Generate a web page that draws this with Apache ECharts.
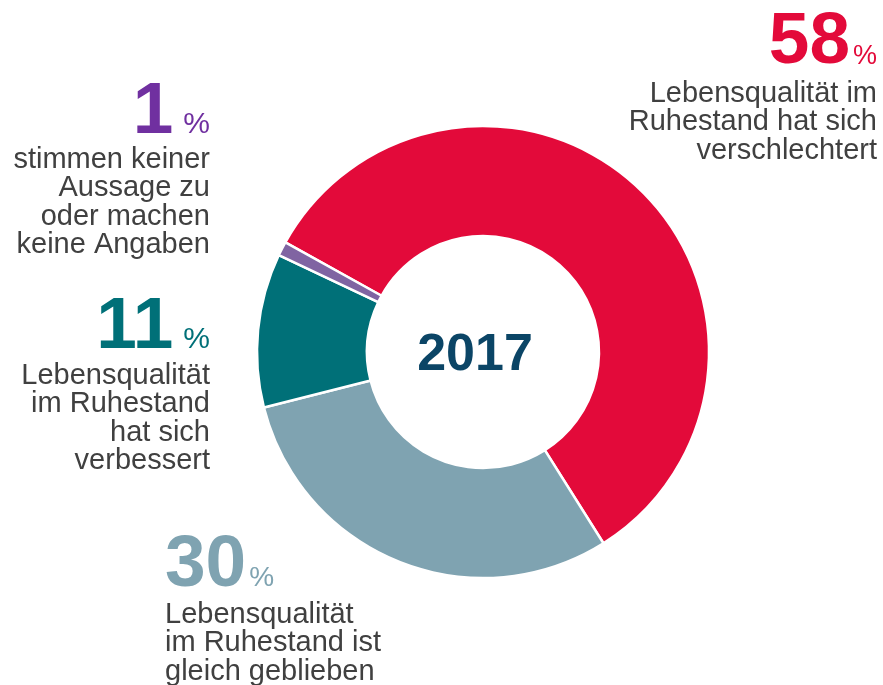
<!DOCTYPE html>
<html><head><meta charset="utf-8">
<script src="https://cdn.jsdelivr.net/npm/echarts@6/dist/echarts.min.js"></script>
<style>html,body{margin:0;padding:0;background:#fff}#c{width:883px;height:685px}</style>
</head><body><div id="c"></div>
<script>
const categories = ['Lebensqualität im Ruhestand hat sich verschlechtert','Lebensqualität im Ruhestand ist gleich geblieben','Lebensqualität im Ruhestand hat sich verbessert','stimmen keiner Aussage zu oder machen keine Angaben'];
const values = [58, 30, 11, 1];
const labelLines = [
  ['Lebensqualität im','Ruhestand hat sich','verschlechtert'],
  ['Lebensqualität','im Ruhestand ist','gleich geblieben'],
  ['Lebensqualität','im Ruhestand','hat sich','verbessert'],
  ['stimmen keiner','Aussage zu','oder machen','keine Angaben']
];
const centerLabel = '2017';

const sliceColors = ['#E30A3A','#7FA3B1','#007078','#8064A2'];
const labelColors = ['#E30A3A','#7FA3B1','#007078','#7030A0'];
const FONT = '"Liberation Sans", Arial, sans-serif';
const TEXT = '#404040';

const cvs = document.createElement('canvas').getContext('2d');
function w(text, font){ cvs.font = font; return cvs.measureText(text).width; }

const graphics = [];
function txt(text, x, baseline, size, weight, color, align, k){
  graphics.push({type:'text', silent:true, style:{text:text, x:x, y:baseline - k*size,
    font: weight+' '+size+'px '+FONT, fill:color, align:align, verticalAlign:'middle'}});
}
// layout anchors: [x, numberBaseline, firstLineBaseline, align, percentSize, gap]
const anchors = [
  [877, 65, 104, 'right', 27, 3],
  [165, 588, 625, 'left', 28, 3],
  [210, 350, 386, 'right', 30, 10],
  [210, 135, 170, 'right', 30, 10]
];
const NUM = 73, BODY = 29, LH = 28.5;
anchors.forEach((a, i) => {
  const [x, nb, lb, align, PCT, gap] = a;
  const num = String(values[i]);
  const numW = w(num, 'bold '+NUM+'px '+FONT);
  const pctW = w('%', PCT+'px '+FONT);
  if (align === 'right') {
    txt('%', x, nb, PCT, 'normal', labelColors[i], 'right', 0.33);
    txt(num, x - pctW - gap, nb, NUM, 'bold', labelColors[i], 'right', 0.30);
  } else {
    txt(num, x, nb, NUM, 'bold', labelColors[i], 'left', 0.30);
    txt('%', x + numW + gap, nb, PCT, 'normal', labelColors[i], 'left', 0.33);
  }
  labelLines[i].forEach((l, j) => txt(l, x, lb + j*LH, BODY, 'normal', TEXT, align, 0.35));
});
graphics.push({type:'text', silent:true, style:{text:centerLabel, x:475, y:356, font:'bold 52px '+FONT, fill:'#0B4566', align:'center', verticalAlign:'middle'}});

const chart = echarts.init(document.getElementById('c'), null, {renderer:'canvas'});
chart.setOption({
  animation:false,
  series:[{
    type:'pie', center:[483,352], radius:[116,226], startAngle:151, clockwise:true,
    silent:true, label:{show:false}, labelLine:{show:false},
    itemStyle:{borderColor:'#fff', borderWidth:2.5},
    data: categories.map((c,i)=>({name:c, value:values[i], itemStyle:{color:sliceColors[i]}}))
  }],
  graphic: graphics
});
</script></body></html>
